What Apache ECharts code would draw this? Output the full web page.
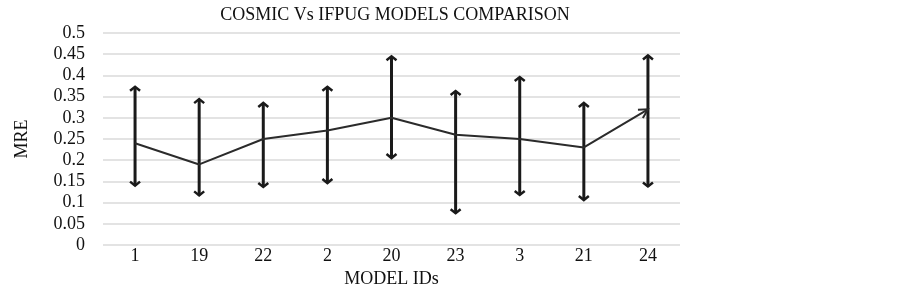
<!DOCTYPE html>
<html>
<head>
<meta charset="utf-8">
<script src="https://cdn.jsdelivr.net/npm/echarts@6/dist/echarts.min.js"></script>
<style>
html, body { margin: 0; padding: 0; background: #fff; }
#chart { width: 903px; height: 288px; }
</style>
</head>
<body>
<div id="chart"></div>
<script>
var modelIds = ['1', '19', '22', '2', '20', '23', '3', '21', '24'];
var mreValues = [0.24, 0.19, 0.25, 0.27, 0.30, 0.26, 0.25, 0.23, 0.32];
var errLow = [0.14, 0.117, 0.137, 0.146, 0.205, 0.075, 0.118, 0.106, 0.138];
var errHigh = [0.373, 0.344, 0.335, 0.373, 0.445, 0.363, 0.396, 0.335, 0.447];

var chart = echarts.init(document.getElementById('chart'), null, {renderer: 'canvas'});

var errData = modelIds.map(function (id, i) {
  return [i, errLow[i], errHigh[i]];
});

function head(x, y, dir) {
  // small open arrowhead; dir = -1 up, 1 down
  return {
    type: 'polyline',
    shape: {points: [[x - 5, y - dir * 4], [x, y], [x + 5, y - dir * 4]]},
    style: {stroke: '#1a1a1a', lineWidth: 2.5, fill: null}
  };
}

var serif = 'Liberation Serif';

var option = {
  animation: false,
  title: {
    text: 'COSMIC Vs IFPUG MODELS COMPARISON',
    left: 390,
    textAlign: 'center',
    top: 1,
    textStyle: {fontFamily: serif, fontSize: 18, fontWeight: 'normal', color: '#111'}
  },
  grid: {left: 103, right: 223, top: 33, bottom: 43, outerBoundsMode: 'none', containLabel: false},
  xAxis: {
    type: 'category',
    data: modelIds,
    name: 'MODEL IDs',
    nameLocation: 'middle',
    nameGap: 24,
    nameTextStyle: {fontFamily: serif, fontSize: 18, color: '#111'},
    axisLine: {show: false},
    axisTick: {show: false},
    axisLabel: {fontFamily: serif, fontSize: 18, color: '#111', margin: 2}
  },
  yAxis: {
    type: 'value',
    min: 0,
    max: 0.5,
    interval: 0.05,
    name: 'MRE',
    nameLocation: 'middle',
    nameGap: 72,
    nameTextStyle: {fontFamily: serif, fontSize: 18, color: '#111'},
    axisLine: {show: false},
    axisTick: {show: false},
    axisLabel: {
      fontFamily: serif, fontSize: 18, color: '#111', margin: 18,
      formatter: function (v) { return String(+v.toFixed(2)); }
    },
    splitLine: {lineStyle: {color: '#e3e3e3', width: 2}}
  },
  series: [
    {
      type: 'line',
      data: mreValues,
      symbol: 'none',
      lineStyle: {color: '#2b2b2b', width: 2}
    },
    {
      type: 'custom',
      data: errData,
      z: 3,
      renderItem: function (params, api) {
        var i = api.value(0);
        var lo = api.coord([i, api.value(1)]);
        var hi = api.coord([i, api.value(2)]);
        var x = hi[0];
        var children = [
          {type: 'line', shape: {x1: x, y1: lo[1], x2: x, y2: hi[1]},
           style: {stroke: '#1a1a1a', lineWidth: 3}},
          head(x, hi[1], -1),
          head(x, lo[1], 1)
        ];
        if (params.dataIndex === modelIds.length - 1) {
          // arrow tip on the last line segment
          var p1 = api.coord([i - 1, mreValues[i - 1]]);
          var p2 = api.coord([i, mreValues[i]]);
          var ang = Math.atan2(p2[1] - p1[1], p2[0] - p1[0]);
          var L = 10, a = 0.5;
          children.push({
            type: 'polyline',
            shape: {points: [
              [p2[0] - L * Math.cos(ang - a), p2[1] - L * Math.sin(ang - a)],
              [p2[0], p2[1]],
              [p2[0] - L * Math.cos(ang + a), p2[1] - L * Math.sin(ang + a)]
            ]},
            style: {stroke: '#2b2b2b', lineWidth: 2, fill: null}
          });
        }
        return {type: 'group', children: children};
      }
    }
  ]
};
chart.setOption(option);
</script>
</body>
</html>
